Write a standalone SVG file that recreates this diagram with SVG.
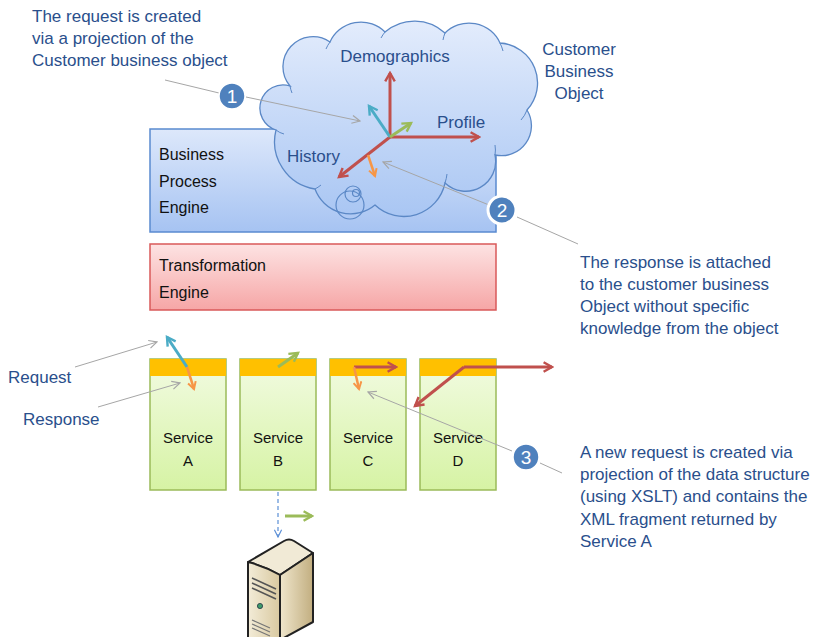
<svg xmlns="http://www.w3.org/2000/svg" width="828" height="637" viewBox="0 0 828 637">
  <defs>
    <linearGradient id="gBlue" x1="0" y1="0" x2="0" y2="1">
      <stop offset="0" stop-color="#dde8fb"/>
      <stop offset="1" stop-color="#a6c3f2"/>
    </linearGradient>
    <linearGradient id="gCloud" x1="0" y1="0" x2="0" y2="1">
      <stop offset="0" stop-color="#e3ecfc"/>
      <stop offset="1" stop-color="#a9c6f3"/>
    </linearGradient>
    <linearGradient id="gPink" x1="0" y1="0" x2="0" y2="1">
      <stop offset="0" stop-color="#fde3e3"/>
      <stop offset="1" stop-color="#f6a6a6"/>
    </linearGradient>
    <linearGradient id="gGreen" x1="0" y1="0" x2="0" y2="1">
      <stop offset="0" stop-color="#f2fbe2"/>
      <stop offset="1" stop-color="#d6f3a4"/>
    </linearGradient>
    <linearGradient id="gFront" x1="0" y1="0" x2="1" y2="0">
      <stop offset="0" stop-color="#f3ecd8"/>
      <stop offset="1" stop-color="#d9c9a0"/>
    </linearGradient>
    <linearGradient id="gSide" x1="0" y1="0" x2="1" y2="0">
      <stop offset="0" stop-color="#efe6cc"/>
      <stop offset="1" stop-color="#c2ae80"/>
    </linearGradient>
    <marker id="open" viewBox="0 0 10 10" refX="9" refY="5" markerWidth="10" markerHeight="10" markerUnits="userSpaceOnUse" orient="auto">
      <path d="M1,1 L9,5 L1,9" fill="none" stroke="#a6a6a6" stroke-width="1.2"/>
    </marker>
    <marker id="dashHead" viewBox="0 0 10 10" refX="9" refY="5" markerWidth="9" markerHeight="9" markerUnits="userSpaceOnUse" orient="auto">
      <path d="M1,1 L9,5 L1,9" fill="none" stroke="#5b8fd6" stroke-width="1.3"/>
    </marker>
    <marker id="hRed" viewBox="0 0 10 10" refX="8" refY="5" markerWidth="4" markerHeight="4" orient="auto">
      <path d="M1,1 L8,5 L1,9" fill="none" stroke="#c0504d" stroke-width="2"/>
    </marker>
    <marker id="hTeal" viewBox="0 0 10 10" refX="8" refY="5" markerWidth="4" markerHeight="4" orient="auto">
      <path d="M1,1 L8,5 L1,9" fill="none" stroke="#4bacc6" stroke-width="2"/>
    </marker>
    <marker id="hGreen" viewBox="0 0 10 10" refX="8" refY="5" markerWidth="4" markerHeight="4" orient="auto">
      <path d="M1,1 L8,5 L1,9" fill="none" stroke="#9bbb59" stroke-width="2"/>
    </marker>
    <marker id="hOrange" viewBox="0 0 10 10" refX="8" refY="5" markerWidth="4" markerHeight="4" orient="auto">
      <path d="M1,1 L8,5 L1,9" fill="none" stroke="#f79646" stroke-width="2"/>
    </marker>
  </defs>
  <style>
    .note { font-family: "Liberation Sans", Arial, sans-serif; font-size: 17px; fill: #2a4f8c; }
    .lbl { font-family: "Liberation Sans", Arial, sans-serif; font-size: 16px; fill: #111; }
    .svc { font-family: "Liberation Sans", Arial, sans-serif; font-size: 15px; fill: #111; text-anchor: middle; }
    .lead { fill: none; stroke: #a6a6a6; stroke-width: 1; }
    .red { fill: none; stroke: #c0504d; stroke-width: 3; marker-end: url(#hRed); }
    .teal { fill: none; stroke: #4bacc6; stroke-width: 3; marker-end: url(#hTeal); }
    .green { fill: none; stroke: #9bbb59; stroke-width: 3; marker-end: url(#hGreen); }
    .orange { fill: none; stroke: #f79646; stroke-width: 2.5; marker-end: url(#hOrange); }
    .badge circle { fill: #4f81bd; stroke: #fff; }
    .badge text { font-family: "Liberation Sans", Arial, sans-serif; font-size: 19px; fill: #fff; text-anchor: middle; }
    .svcbox rect.body { fill: url(#gGreen); stroke: #9bbb59; stroke-width: 1.5; }
    .svcbox rect.band { fill: #ffc000; }
  </style>

  <rect width="828" height="637" fill="#ffffff"/>

  <!-- Business process engine -->
  <g id="bpe">
    <rect x="150" y="129" width="346" height="103" fill="url(#gBlue)" stroke="#5a8ad0" stroke-width="1.5"/>
    <text class="lbl" x="159" y="160">Business</text>
    <text class="lbl" x="159" y="187">Process</text>
    <text class="lbl" x="159" y="213">Engine</text>
  </g>

  <!-- Transformation engine -->
  <g id="te">
    <rect x="150" y="244" width="346" height="66" fill="url(#gPink)" stroke="#d9595a" stroke-width="1.5"/>
    <text class="lbl" x="159" y="271">Transformation</text>
    <text class="lbl" x="159" y="298">Engine</text>
  </g>

  <!-- Customer business object cloud -->
  <g id="cloud">
    <path d="M276,130 A23,23 0 0 1 290,86 A30,30 0 0 1 330,42 A34,34 0 0 1 385,32 A45,45 0 0 1 445,33 A34,34 0 0 1 500,43 A40,40 0 0 1 527,110 A30,30 0 0 1 495,155 A30,30 0 0 1 445,183 A42,42 0 0 1 375,205 A38,38 0 0 1 315,189 A48,48 0 0 1 276,130 Z" fill="url(#gCloud)" stroke="#5b88c6" stroke-width="1.3"/>
    <path d="M276,130 A20,20 0 0 0 284,134 M290,86 A30,30 0 0 0 292,93 M330,42 A32,32 0 0 0 326,49 M385,32 A35,35 0 0 0 381,38 M445,33 A32,32 0 0 0 443,40 M500,43 A40,40 0 0 1 503,51 M527,110 A30,30 0 0 1 521,120 M495,155 A30,30 0 0 0 495,145 M445,183 A42,42 0 0 0 447,174 M315,189 A35,35 0 0 0 321,185" fill="none" stroke="#5b88c6" stroke-width="1"/>
    <circle cx="350" cy="205" r="14" fill="none" stroke="#5b88c6" stroke-width="1.2"/>
    <circle cx="353" cy="194" r="8" fill="none" stroke="#5b88c6" stroke-width="1.2"/>
    <circle cx="356" cy="193" r="3.5" fill="none" stroke="#5b88c6" stroke-width="1.2"/>
    <text class="note" x="395" y="62" text-anchor="middle">Demographics</text>
    <text class="note" x="437" y="128">Profile</text>
    <text class="note" x="287" y="162">History</text>
  </g>

  <g id="cbo-label">
    <text class="note" x="579" y="55" text-anchor="middle">Customer</text>
    <text class="note" x="579" y="77" text-anchor="middle">Business</text>
    <text class="note" x="579" y="99" text-anchor="middle">Object</text>
  </g>

  <!-- Services -->
  <g id="svcA" class="svcbox">
    <rect class="body" x="150" y="359" width="76" height="131"/>
    <rect class="band" x="150" y="359" width="76" height="17"/>
    <text class="svc" x="188" y="443">Service</text>
    <text class="svc" x="188" y="466">A</text>
  </g>
  <g id="svcB" class="svcbox">
    <rect class="body" x="240" y="359" width="76" height="131"/>
    <rect class="band" x="240" y="359" width="76" height="17"/>
    <text class="svc" x="278" y="443">Service</text>
    <text class="svc" x="278" y="466">B</text>
  </g>
  <g id="svcC" class="svcbox">
    <rect class="body" x="330" y="359" width="76" height="131"/>
    <rect class="band" x="330" y="359" width="76" height="17"/>
    <text class="svc" x="368" y="443">Service</text>
    <text class="svc" x="368" y="466">C</text>
  </g>
  <g id="svcD" class="svcbox">
    <rect class="body" x="420" y="359" width="76" height="131"/>
    <rect class="band" x="420" y="359" width="76" height="17"/>
    <text class="svc" x="458" y="443">Service</text>
    <text class="svc" x="458" y="466">D</text>
  </g>

  <!-- Server -->
  <g id="server">
    <path d="M248,562 L284,541 Q289,538 294,541 L313,553 L280,575 Q264,566 248,562 Z" fill="#f1ead6" stroke="#222" stroke-width="2" stroke-linejoin="round"/>
    <path d="M248,562 Q264,566 280,575 L280,640 L248,640 Z" fill="url(#gFront)" stroke="#222" stroke-width="2" stroke-linejoin="round"/>
    <polygon points="280,575 313,553 313,622 280,640" fill="url(#gSide)" stroke="#222" stroke-width="2" stroke-linejoin="round"/>
    <path d="M252,578 L276,589 M252,583 L276,594 M252,588 L276,599" stroke="#555" stroke-width="1.6"/>
    <circle cx="260" cy="606" r="2.6" fill="#3c9a6a" stroke="#234" stroke-width="0.8"/>
    <path d="M252,620 L270,628 M252,624 L270,632 M252,628 L270,636" stroke="#777" stroke-width="1.3"/>
  </g>

  <!-- Connectors -->
  <g id="connectors">
    <!-- axes of the business object -->
    <line class="red" x1="390" y1="137" x2="390" y2="73"/>
    <line class="red" x1="390" y1="137" x2="479" y2="137"/>
    <line class="red" x1="390" y1="137" x2="339" y2="177"/>
    <line class="teal" x1="390" y1="137" x2="369" y2="106"/>
    <line class="green" x1="390" y1="137" x2="411" y2="123"/>
    <line class="orange" x1="368" y1="155" x2="375" y2="176"/>

    <!-- service calls -->
    <line class="teal" x1="187" y1="367" x2="167" y2="337"/>
    <line class="orange" x1="187" y1="367" x2="194" y2="389"/>
    <line class="green" x1="278" y1="367" x2="298" y2="353"/>
    <line class="red" x1="354" y1="367" x2="396" y2="367"/>
    <line class="orange" x1="354" y1="367" x2="359" y2="389"/>
    <line class="red" x1="464" y1="367" x2="552" y2="367"/>
    <line class="red" x1="464" y1="367" x2="415" y2="406"/>
    <line class="green" x1="285" y1="516" x2="312" y2="516"/>
    <line x1="278" y1="492" x2="278" y2="537" stroke="#5b8fd6" stroke-width="1.2" stroke-dasharray="4,3" marker-end="url(#dashHead)"/>

    <!-- callout leaders -->
    <line class="lead" x1="165" y1="80" x2="219" y2="93"/>
    <line class="lead" x1="246" y1="97" x2="360" y2="121" marker-end="url(#open)"/>
    <line class="lead" x1="489" y1="205" x2="383" y2="162" marker-end="url(#open)"/>
    <line class="lead" x1="517" y1="217" x2="578" y2="244"/>
    <line class="lead" x1="512" y1="451" x2="368" y2="392" marker-end="url(#open)"/>
    <line class="lead" x1="540" y1="463" x2="562" y2="473"/>
    <line class="lead" x1="75" y1="367" x2="157" y2="342" marker-end="url(#open)"/>
    <line class="lead" x1="98" y1="407" x2="180" y2="383" marker-end="url(#open)"/>
  </g>

  <!-- Callout texts -->
  <g id="note1">
    <text class="note" x="32" y="22">The request is created</text>
    <text class="note" x="32" y="44">via a projection of the</text>
    <text class="note" x="32" y="66">Customer business object</text>
  </g>
  <g id="note2">
    <text class="note" x="580" y="268">The response is attached</text>
    <text class="note" x="580" y="290">to the customer business</text>
    <text class="note" x="580" y="312">Object without specific</text>
    <text class="note" x="580" y="334">knowledge from the object</text>
  </g>
  <g id="note3">
    <text class="note" x="580" y="458">A new request is created via</text>
    <text class="note" x="580" y="480">projection of the data structure</text>
    <text class="note" x="580" y="502">(using XSLT) and contains the</text>
    <text class="note" x="580" y="525">XML fragment returned by</text>
    <text class="note" x="580" y="547">Service A</text>
  </g>
  <g id="req-label"><text class="note" x="8" y="383">Request</text></g>
  <g id="resp-label"><text class="note" x="23" y="425">Response</text></g>

  <!-- Step badges -->
  <g id="badge1" class="badge">
    <circle cx="232" cy="96" r="13" stroke-width="1.5"/>
    <text x="232" y="103">1</text>
  </g>
  <g id="badge2" class="badge">
    <circle cx="502" cy="210" r="14" stroke-width="3"/>
    <text x="502" y="217">2</text>
  </g>
  <g id="badge3" class="badge">
    <circle cx="526" cy="457" r="13" stroke-width="1.5"/>
    <text x="526" y="464">3</text>
  </g>
</svg>
